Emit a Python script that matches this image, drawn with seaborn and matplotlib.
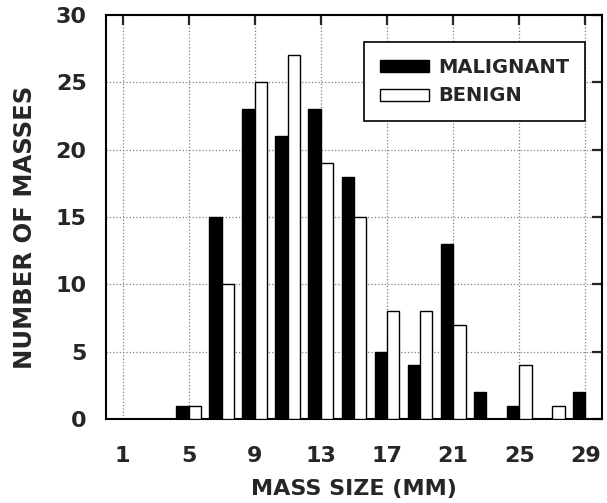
import pandas as pd
import matplotlib
matplotlib.use('Agg')
import matplotlib.pyplot as plt
import seaborn as sns

# 데이터
sizes = [5, 7, 9, 11, 13, 15, 17, 19, 21, 23, 25, 27, 29]
malignant = [1, 15, 23, 21, 23, 18, 5, 4, 13, 2, 1, 0, 2]
benign = [1, 10, 25, 27, 19, 15, 8, 8, 7, 0, 4, 1, 0]
xticks = [1, 5, 9, 13, 17, 21, 25, 29]
yticks = [0, 5, 10, 15, 20, 25, 30]

sns.set_style('white')
plt.rcParams['font.family'] = ['DejaVu Sans']
plt.rcParams['font.weight'] = 'bold'

df = pd.DataFrame({
    'size': sizes * 2,
    'count': malignant + benign,
    'type': ['MALIGNANT'] * len(sizes) + ['BENIGN'] * len(sizes),
})

fig = plt.figure(figsize=(6.07, 5.03), dpi=100)
ax = fig.add_axes([0.1746, 0.167, 0.817, 0.803])

sns.barplot(data=df, x='size', y='count', hue='type', native_scale=True,
            width=0.75, palette={'MALIGNANT': 'black', 'BENIGN': 'white'},
            edgecolor='black', linewidth=1.0, saturation=1, ax=ax, zorder=3)

ax.set_xlim(0, 30)
ax.set_ylim(0, 30)
ax.set_xticks(xticks)
ax.set_yticks(yticks)
ax.tick_params(axis='both', labelsize=16, width=1.6, length=7)
ax.tick_params(axis='x', direction='out', top=True, pad=12.5)
ax.tick_params(axis='y', direction='out', right=True, pad=7)
for lbl in ax.get_xticklabels() + ax.get_yticklabels():
    lbl.set_fontweight('bold')
# 위/오른쪽 눈금은 안쪽으로
for t in ax.xaxis.get_major_ticks():
    t.tick2line.set_marker(3)
for t in ax.yaxis.get_major_ticks():
    t.tick2line.set_marker(0)

ax.grid(True, color='gray', linestyle=':', linewidth=0.9, zorder=0)
ax.set_axisbelow(True)
for s in ax.spines.values():
    s.set_linewidth(1.5)
    s.set_color('black')

ax.set_xlabel('MASS SIZE (MM)', fontsize=16, fontweight='bold', labelpad=9)
ax.set_ylabel('NUMBER OF MASSES', fontsize=17.5, fontweight='bold')
ax.yaxis.set_label_coords(-0.139, 0.475)

leg = ax.legend(loc='upper right', bbox_to_anchor=(0.966, 0.933), borderaxespad=0,
                fontsize=14, frameon=True, fancybox=False, handlelength=2.5,
                handleheight=0.57, borderpad=0.8, labelspacing=0.5,
                handletextpad=0.5)
leg.get_frame().set_edgecolor('black')
leg.get_frame().set_linewidth(1.2)
leg.get_frame().set_alpha(1)
for txt in leg.get_texts():
    txt.set_fontweight('bold')

fig.savefig('out.png', dpi=100)
